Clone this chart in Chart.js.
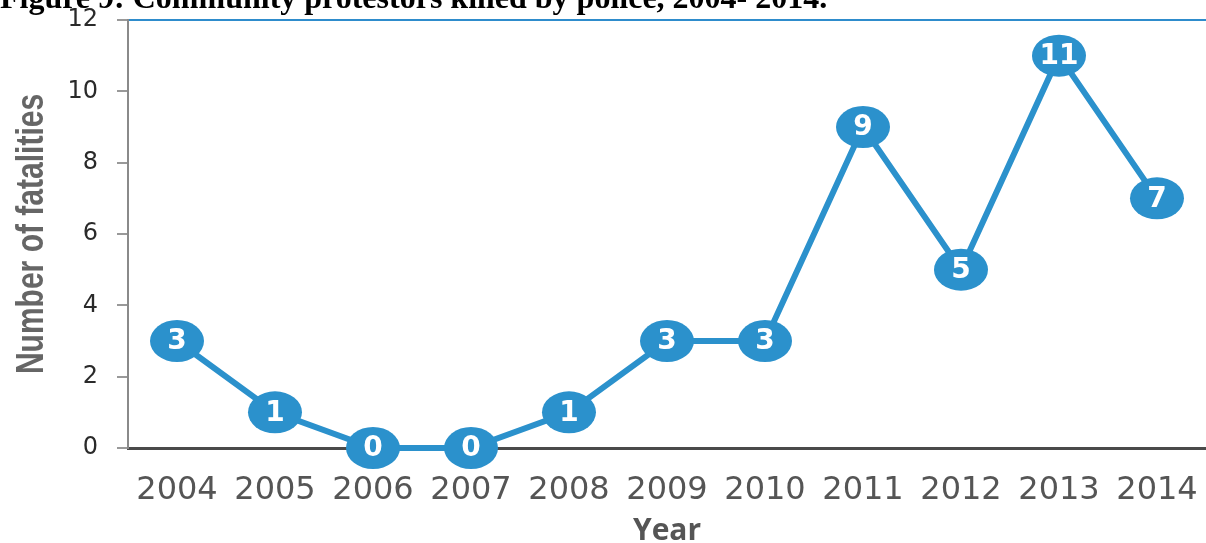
<!DOCTYPE html>
<html>
<head>
<meta charset="utf-8">
<script src="https://cdn.jsdelivr.net/npm/chart.js@4"></script>
<style>
  html, body { margin: 0; padding: 0; background: #fff; overflow: hidden; }
  #wrap { position: relative; width: 1206px; height: 543px; }
  #fig-title {
    position: absolute; left: 0; top: -15px; z-index: 2;
    font: bold 32px 'Liberation Serif', serif; line-height: 25px;
    color: #000; white-space: nowrap;
  }
  canvas { position: absolute; left: 0; top: 0; }
</style>
</head>
<body>
<div id="wrap">
  <div id="fig-title">Figure 9: Community protestors killed by police, 2004- 2014.</div>
  <canvas id="fatalChart" width="1206" height="543"></canvas>
</div>
<script>
// ===== Data =====
const years = ['2004', '2005', '2006', '2007', '2008', '2009', '2010', '2011', '2012', '2013', '2014'];
const fatalities = [3, 1, 0, 0, 1, 3, 3, 9, 5, 11, 7];
const yTicks = [0, 2, 4, 6, 8, 10, 12];
const yTitle = 'Number of fatalities';

const BLUE = '#2b91cc';

// ellipse markers with the value inside, drawn at the points the line uses
const bubbleLabels = {
    id: 'bubbleLabels',
    afterDatasetsDraw(chart) {
        const ctx = chart.ctx;
        const meta = chart.getDatasetMeta(0);
        ctx.save();
        meta.data.forEach((pt, i) => {
            ctx.beginPath();
            ctx.ellipse(pt.x, pt.y, 27, 21, 0, 0, Math.PI * 2);
            ctx.fillStyle = BLUE;
            ctx.fill();
            ctx.fillStyle = '#fff';
            ctx.font = 'bold 28px "DejaVu Sans"';
            ctx.textAlign = 'center';
            ctx.textBaseline = 'middle';
            ctx.fillText(String(fatalities[i]), pt.x, pt.y + 1);
        });
        ctx.restore();
    }
};

// condensed y-axis title (the built-in title can't be narrowed)
const narrowYTitle = {
    id: 'narrowYTitle',
    afterDraw(chart) {
        const ctx = chart.ctx;
        const area = chart.chartArea;
        ctx.save();
        ctx.translate(33, (area.top + area.bottom) / 2);
        ctx.rotate(-Math.PI / 2);
        ctx.scale(0.79, 1);
        ctx.font = 'bold 38px "Liberation Sans"';
        ctx.fillStyle = '#666';
        ctx.textAlign = 'center';
        ctx.textBaseline = 'middle';
        ctx.fillText(yTitle, 0, 0);
        ctx.restore();
    }
};

document.addEventListener('DOMContentLoaded', () => {
    const ctx = document.getElementById('fatalChart');
    new Chart(ctx, {
        type: 'line',
        data: {
            labels: years,
            datasets: [{
                data: fatalities,
                borderColor: BLUE,
                borderWidth: 6,
                pointRadius: 0,
                tension: 0,
                clip: false
            }]
        },
        options: {
            responsive: false,
            animation: false,
            layout: { padding: { top: 20, right: 0, left: 0, bottom: 0 } },
            plugins: {
                legend: { display: false },
                tooltip: { enabled: false }
            },
            scales: {
                x: {
                    offset: true,
                    afterFit(scale) {
                        scale.height = 95;
                        scale.paddingLeft = 0;
                        scale.paddingRight = 0;
                    },
                    grid: { display: false, drawTicks: false },
                    border: { display: true, color: '#4a4a4a', width: 3 },
                    ticks: {
                        color: '#555',
                        font: { family: 'DejaVu Sans', size: 32 },
                        padding: 23,
                        maxRotation: 0,
                        autoSkip: false
                    },
                    title: {
                        display: true,
                        text: 'Year',
                        color: '#555',
                        font: { family: 'Open Sans', size: 30, weight: 'bold', lineHeight: 0.8 },
                        padding: 0
                    }
                },
                y: {
                    min: 0,
                    max: 12,
                    afterFit(scale) {
                        scale.width = 128;
                        scale.paddingTop = 0;
                        scale.paddingBottom = 0;
                    },
                    afterBuildTicks(scale) { scale.ticks = yTicks.map(v => ({ value: v })); },
                    grid: {
                        drawOnChartArea: true,
                        color: c => (c.tick && c.tick.value === 12 ? '#2e8ccc' : 'rgba(0,0,0,0)'),
                        lineWidth: 2,
                        tickColor: '#999',
                        tickLength: 11
                    },
                    border: { display: true, color: '#8a8a8a', width: 2 },
                    ticks: {
                        color: '#2a2a2a',
                        font: { family: 'DejaVu Sans', size: 24 },
                        padding: 19
                    }
                }
            }
        },
        plugins: [bubbleLabels, narrowYTitle]
    });
});
</script>
</body>
</html>
